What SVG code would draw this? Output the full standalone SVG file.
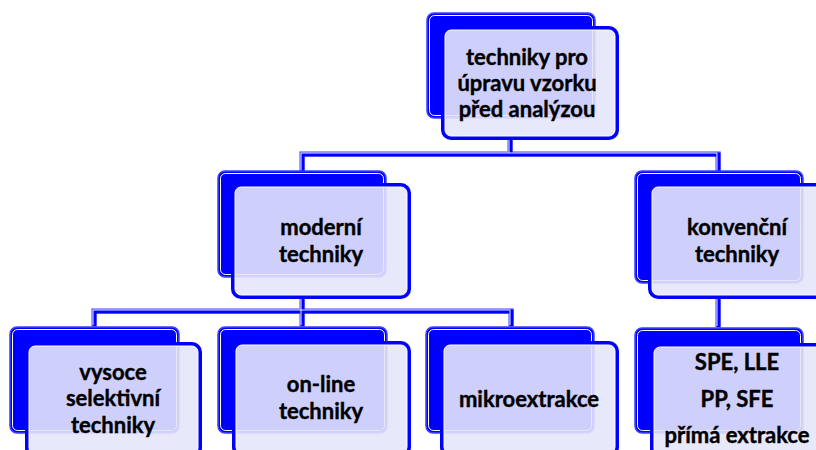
<svg xmlns="http://www.w3.org/2000/svg" width="816" height="450" viewBox="0 0 816 450">
<defs>
<style>
.back{fill:#0000ff;stroke:#4040ff;stroke-width:1.5}
.backin{fill:none;stroke:#ffffff;stroke-width:1}
.front{fill:#e6e6fb;fill-opacity:0.9;stroke:#0000ff;stroke-width:4}
.frontin{fill:none;stroke:#ffffff;stroke-width:1}
.c1{fill:none;stroke:#8080ff;stroke-width:5.5}
.c2{fill:none;stroke:#0000ff;stroke-width:4}
.c3{fill:none;stroke:#ffffff;stroke-width:0.9}
text{font-family:Lato,"Liberation Sans",sans-serif;font-weight:bold;font-size:22px;fill:#000;text-anchor:middle;stroke:#000;stroke-width:0.4}
</style>
</defs>
<g id="connectors">
<path class="c1" d="M510,138 V154 M302,171 V154 H718 V171 M302,297 V326 M94,326 V311 H511 V326 M718,297 V327"/>
<path class="c2" transform="translate(0.5,0.5)" d="M510,138 V154 M302,171 V154 H718 V171 M302,297 V326 M94,326 V311 H511 V326 M718,297 V327"/>
<path class="c3" transform="translate(-1,-1)" d="M510,138 V154 M302,171 V154 H718 V171 M302,297 V326 M94,326 V311 H511 V326 M718,297 V327"/>
</g>
<g id="n-top">
<rect class="back" x="427" y="13" width="168" height="105" rx="7"/>
<rect class="backin" x="429.5" y="15.5" width="163" height="100" rx="5"/>
<rect class="front" x="443" y="28" width="174" height="110" rx="8"/>
<rect class="frontin" x="445" y="30" width="170" height="106" rx="6"/>
<text x="527" y="65">techniky pro</text>
<text x="527" y="91">úpravu vzorku</text>
<text x="527" y="117">před analýzou</text>
</g>
<g id="n-moderni">
<rect class="back" x="218" y="171" width="168" height="106" rx="7"/>
<rect class="backin" x="220.5" y="173.5" width="163" height="101" rx="5"/>
<rect class="front" x="233" y="185" width="176" height="112" rx="8"/>
<rect class="frontin" x="235" y="187" width="172" height="108" rx="6"/>
<text x="321" y="235">moderní</text>
<text x="321" y="262">techniky</text>
</g>
<g id="n-konvencni">
<rect class="back" x="635" y="171" width="168" height="112" rx="7"/>
<rect class="backin" x="637.5" y="173.5" width="163" height="107" rx="5"/>
<rect class="front" x="650" y="185" width="176" height="112" rx="8"/>
<rect class="frontin" x="652" y="187" width="172" height="108" rx="6"/>
<text x="737" y="235">konvenční</text>
<text x="737" y="262">techniky</text>
</g>
<g id="n-vysoce">
<rect class="back" x="10" y="327" width="169" height="106" rx="7"/>
<rect class="backin" x="12.5" y="329.5" width="164" height="101" rx="5"/>
<rect class="front" x="27" y="344" width="173" height="112" rx="8"/>
<rect class="frontin" x="29" y="346" width="169" height="108" rx="6"/>
<text x="113" y="380">vysoce</text>
<text x="113" y="406">selektivní</text>
<text x="113" y="433">techniky</text>
</g>
<g id="n-online">
<rect class="back" x="218" y="327" width="169" height="106" rx="7"/>
<rect class="backin" x="220.5" y="329.5" width="164" height="101" rx="5"/>
<rect class="front" x="234" y="343" width="175" height="112" rx="8"/>
<rect class="frontin" x="236" y="345" width="171" height="108" rx="6"/>
<text x="321" y="392">on-line</text>
<text x="321" y="419">techniky</text>
</g>
<g id="n-mikro">
<rect class="back" x="426" y="327" width="168" height="106" rx="7"/>
<rect class="backin" x="428.5" y="329.5" width="163" height="101" rx="5"/>
<rect class="front" x="442" y="343" width="175" height="112" rx="8"/>
<rect class="frontin" x="444" y="345" width="171" height="108" rx="6"/>
<text x="529" y="407">mikroextrakce</text>
</g>
<g id="n-spe">
<rect class="back" x="635" y="328" width="168" height="105" rx="7"/>
<rect class="backin" x="637.5" y="330.5" width="163" height="100" rx="5"/>
<rect class="front" x="652" y="345" width="176" height="112" rx="8"/>
<rect class="frontin" x="654" y="347" width="172" height="108" rx="6"/>
<text x="737" y="370">SPE, LLE</text>
<text x="737" y="407">PP, SFE</text>
<text x="737" y="443">přímá extrakce</text>
</g>
</svg>
